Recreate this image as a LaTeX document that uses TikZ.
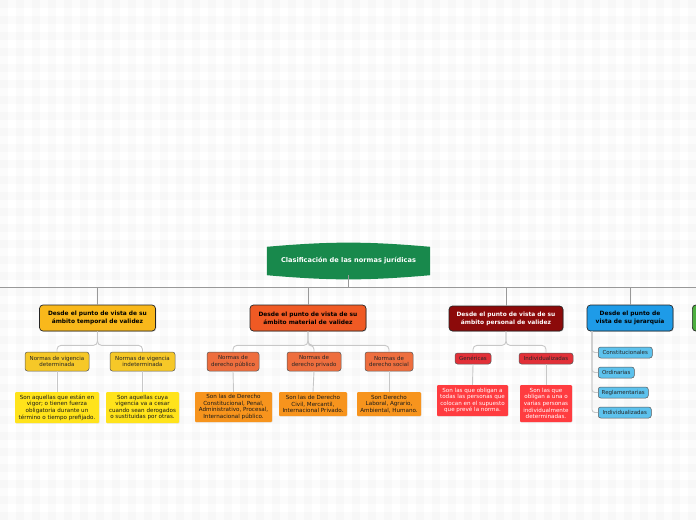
\documentclass[tikz,border=0pt]{standalone}
\usepackage{fontspec}
\setmainfont{DejaVu Sans}
\usepackage{xcolor}
\usepackage{tikz}
\usetikzlibrary{positioning, shadows, backgrounds}

% Branch colours
\definecolor{rootgreen}{RGB}{24,137,76}
\definecolor{tempA}{RGB}{249,184,27}
\definecolor{tempB}{RGB}{246,200,40}
\definecolor{tempC}{RGB}{255,227,27}
\definecolor{matA}{RGB}{240,90,36}
\definecolor{matB}{RGB}{238,110,62}
\definecolor{matC}{RGB}{247,148,29}
\definecolor{persA}{RGB}{140,10,10}
\definecolor{persB}{RGB}{226,48,56}
\definecolor{persC}{RGB}{255,60,64}
\definecolor{jerA}{RGB}{30,155,232}
\definecolor{jerB}{RGB}{93,194,237}
\definecolor{otherA}{RGB}{76,175,63}

\newcommand{\headfont}{\fontsize{5.9}{7.8}\selectfont\bfseries}
\newcommand{\subfont}{\fontsize{5.5}{6.8}\selectfont}
\newcommand{\leaffont}{\fontsize{5.6}{6.6}\selectfont}

\begin{document}
\begin{tikzpicture}[x=1pt, y=-1pt,
  every node/.style={font=\leaffont, inner sep=1pt, align=center},
  branch/.style={draw=black!85, line width=0.7pt, rounded corners=3.5pt, font=\headfont,
    minimum height=26, drop shadow={opacity=0.3, shadow xshift=0.8pt, shadow yshift=-0.8pt}},
  subbox/.style={draw=black!65, line width=0.5pt, rounded corners=2.5pt, font=\subfont,
    text=black!85, minimum height=19},
  tagbox/.style={subbox, minimum height=11},
  leafbox/.style={rounded corners=1pt, text=black!90,
    drop shadow={opacity=0.15, shadow xshift=0.6pt, shadow yshift=-0.6pt}},
  trunk/.style={draw=black!40, line width=1pt},
  link/.style={draw=black!22, line width=0.9pt, rounded corners=4pt}]

\useasboundingbox (0,0) rectangle (696,520);
\clip (0,0) rectangle (696,520);

% Faint grid paper
\begin{scope}[on background layer]
  \fill[white] (0,0) rectangle (696,520);
  \foreach \g in {0,16,...,696} {
    \fill[black, opacity=0.014] (\g,0) rectangle +(8,520);
  }
  \foreach \g in {0,16,...,520} {
    \fill[black, opacity=0.014] (0,\g) rectangle +(696,8);
  }
\end{scope}

% Central topic
\node[font=\fontsize{6.6}{8}\selectfont\bfseries, text=white, minimum width=163, minimum height=28]
  (root) at (348.5,261) {Clasificación de las normas jurídicas};
\begin{scope}[on background layer]
  \fill[rootgreen] (root.north west) to[bend left=5] (root.north east)
    -- (root.south east) to[bend left=5] (root.south west) -- cycle;
\end{scope}

% Main branches
\node[branch, fill=tempA, minimum width=116] (temp) at (97.5,318) {Desde el punto de vista de su\\ámbito temporal de validez};
\node[branch, fill=matA, minimum width=116] (mat) at (308,318) {Desde el punto de vista de su\\ámbito material de validez};
\node[branch, fill=persA, text=white, minimum width=114, minimum height=25] (pers) at (506,318.5) {Desde el punto de vista de su\\ámbito personal de validez};
\node[branch, fill=jerA, minimum width=86] (jer) at (630,318) {Desde el punto de\\vista de su jerarquía};
\node[branch, fill=otherA, minimum width=100, anchor=west] (other) at (692,318) {};

% Trunk line
\coordinate (lend) at (0,287);
\coordinate (rend) at (696,287);
\draw[trunk] (lend) -- (rend);
\draw[trunk] (root.south) -- (root.south |- lend);
\foreach \b in {temp, mat, pers, jer} {
  \draw[trunk] (\b.north |- lend) -- (\b.north);
}

% Temporal
\node[subbox, fill=tempB, minimum width=64] (vdet) at (57,361.5) {Normas de vigencia\\determinada};
\node[subbox, fill=tempB, minimum width=65] (vind) at (142.5,361.5) {Normas de vigencia\\indeterminada};
\node[leafbox, fill=tempC, minimum width=84, minimum height=31] (ldet) at (57,407.5)
  {Son aquellas que están en\\vigor; o tienen fuerza\\obligatoria durante un\\término o tiempo prefijado.};
\node[leafbox, fill=tempC, minimum width=73, minimum height=31] (lind) at (142.5,407.5)
  {Son aquellas cuya\\vigencia va a cesar\\cuando sean derogados\\o sustituidas por otras.};
\foreach \c in {vdet, vind} {
  \draw[link] (temp.south) -- ++(0,14) -| (\c.north);
}
\draw[link] (vdet.south) -- (ldet.north);
\draw[link] (vind.south) -- (lind.north);

% Material
\node[subbox, fill=matB, minimum width=52] (dpub) at (233,361.5) {Normas de\\derecho público};
\node[subbox, fill=matB, minimum width=54] (dpriv) at (314,361.5) {Normas de\\derecho privado};
\node[subbox, fill=matB, minimum width=48] (dsoc) at (389,361.5) {Normas de\\derecho social};
\node[leafbox, fill=matC, minimum width=77, minimum height=30] (lpub) at (233.5,407)
  {Son las de Derecho\\Constitucional, Penal,\\Administrativo, Procesal,\\Internacional público.};
\node[leafbox, fill=matC, minimum width=68, minimum height=24] (lpriv) at (313,404)
  {Son las de Derecho\\Civil, Mercantil,\\Internacional Privado.};
\node[leafbox, fill=matC, minimum width=64, minimum height=24] (lsoc) at (389,404)
  {Son Derecho\\Laboral, Agrario,\\Ambiental, Humano.};
\foreach \c in {dpub, dpriv, dsoc} {
  \draw[link] (mat.south) -- ++(0,14) -| (\c.north);
}
\draw[link] (dpub.south) -- (lpub.north);
\draw[link] (dpriv.south) -- (lpriv.north);
\draw[link] (dsoc.south) -- (lsoc.north);

% Personal
\node[tagbox, fill=persB, minimum width=36] (gen) at (473,358.5) {Genéricas};
\node[tagbox, fill=persB, minimum width=54] (ind) at (546,358.5) {Individualizadas};
\node[leafbox, fill=persC, text=white, minimum width=71, minimum height=31] (lgen) at (472.5,400.5)
  {Son las que obligan a\\todas las personas que\\colocan en el supuesto\\que prevé la norma.};
\node[leafbox, fill=persC, text=white, minimum width=52, minimum height=37] (lind2) at (546,403.5)
  {Son las que\\obligan a una o\\varias personas\\individualmente\\determinadas.};
\foreach \c in {gen, ind} {
  \draw[link] (pers.south) -- ++(0,14) -| (\c.north);
}
\draw[link] (gen.south) -- (lgen.north);
\draw[link] (ind.south) -- (lind2.north);

% Jerarquia
\coordinate (jtop) at (592,331);
\node[tagbox, fill=jerB, anchor=west, minimum width=54] (cons) at (598,352.5) {Constitucionales};
\node[tagbox, fill=jerB, anchor=west, minimum width=36] (ord) at (598,372.5) {Ordinarias};
\node[tagbox, fill=jerB, anchor=west, minimum width=50] (regl) at (598,392.5) {Reglamentarias};
\node[tagbox, fill=jerB, anchor=west, minimum width=53] (indv) at (598,412.5) {Individualizadas};
\foreach \c in {cons, ord, regl, indv} {
  \draw[link, rounded corners=3pt] (jtop) |- (\c.west);
}

\end{tikzpicture}
\end{document}
